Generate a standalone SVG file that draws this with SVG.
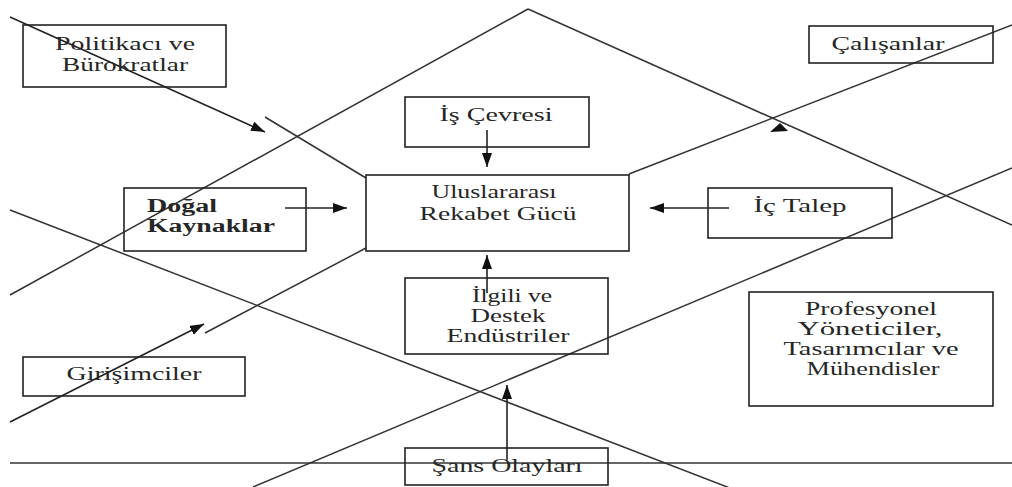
<svg xmlns="http://www.w3.org/2000/svg" width="1012" height="487" viewBox="0 0 1012 487">
<style>
.box{fill:none;stroke:#222;stroke-width:1.6}
.ln{stroke:#333;stroke-width:1.5;fill:none}
.ar{stroke:#222;stroke-width:1.6;fill:none;marker-end:url(#ah)}
text{font-family:"Liberation Serif","Times New Roman",serif;font-size:19px;fill:#262626;text-anchor:middle}
.b{font-weight:bold;text-anchor:start}
</style>
<defs>
<marker id="ah" markerUnits="userSpaceOnUse" markerWidth="16" markerHeight="12" refX="14" refY="5" orient="auto">
<path d="M0,0 L14,5 L0,10 z" fill="#111"/>
</marker>
</defs>
<rect width="1012" height="487" fill="#fff"/>
<g id="connectors">
<line class="ln" x1="528" y1="9" x2="10" y2="295"/>
<line class="ln" x1="528" y1="9" x2="1012" y2="225"/>
<line class="ln" x1="265" y1="117" x2="366" y2="178"/>
<line class="ln" x1="629" y1="174" x2="1012" y2="25"/>
<line class="ln" x1="205" y1="333" x2="366" y2="248"/>
<line class="ln" x1="10" y1="210" x2="735" y2="490"/>
<line class="ln" x1="253" y1="487" x2="1012" y2="168"/>
<line class="ln" x1="10" y1="463" x2="1012" y2="463"/>
<line class="ar" x1="10" y1="17" x2="265" y2="132"/>
<line class="ar" x1="10" y1="422" x2="204" y2="324"/>
<line class="ar" x1="487" y1="130" x2="487" y2="167"/>
<line class="ar" x1="285" y1="208" x2="347" y2="208"/>
<line class="ar" x1="729" y1="208" x2="650" y2="208"/>
<line class="ar" x1="487" y1="293" x2="487" y2="255"/>
<line class="ar" x1="507" y1="460" x2="507" y2="385"/>
<polygon points="770,132 788,131 780,123" fill="#111"/>
</g>
<g id="politikaci">
<rect class="box" x="23" y="25" width="203" height="62"/>
<text transform="scale(1.35 1)" x="92.6" y="50" textLength="103.7" lengthAdjust="spacingAndGlyphs">Politikacı ve</text>
<text transform="scale(1.35 1)" x="92.6" y="71" textLength="93.3" lengthAdjust="spacingAndGlyphs">Bürokratlar</text>
</g>
<g id="is-cevresi">
<rect class="box" x="405" y="97" width="184" height="50"/>
<text transform="scale(1.35 1)" x="367.4" y="121" textLength="83.7" lengthAdjust="spacingAndGlyphs">İş Çevresi</text>
</g>
<g id="calisanlar">
<rect class="box" x="809" y="26" width="184" height="37"/>
<text transform="scale(1.35 1)" x="657.8" y="50" textLength="83.7" lengthAdjust="spacingAndGlyphs">Çalışanlar</text>
</g>
<g id="dogal-kaynaklar">
<rect class="box" x="124" y="188" width="182" height="63"/>
<text class="b" transform="scale(1.35 1)" x="108.9" y="212" textLength="51.9" lengthAdjust="spacingAndGlyphs">Doğal</text>
<text class="b" transform="scale(1.35 1)" x="108.9" y="232" textLength="94.8" lengthAdjust="spacingAndGlyphs">Kaynaklar</text>
</g>
<g id="rekabet">
<rect class="box" x="366" y="175" width="263" height="76"/>
<text transform="scale(1.35 1)" x="365.9" y="198" textLength="92.6" lengthAdjust="spacingAndGlyphs">Uluslararası</text>
<text transform="scale(1.35 1)" x="368.9" y="220" textLength="116.3" lengthAdjust="spacingAndGlyphs">Rekabet Gücü</text>
</g>
<g id="ic-talep">
<rect class="box" x="708" y="188" width="184" height="50"/>
<text transform="scale(1.35 1)" x="592.6" y="212" textLength="68.9" lengthAdjust="spacingAndGlyphs">İç Talep</text>
</g>
<g id="ilgili-destek">
<rect class="box" x="405" y="278" width="203" height="76"/>
<text transform="scale(1.35 1)" x="379.3" y="302" textLength="59.3" lengthAdjust="spacingAndGlyphs">İlgili ve</text>
<text transform="scale(1.35 1)" x="376.3" y="322" textLength="55.6" lengthAdjust="spacingAndGlyphs">Destek</text>
<text transform="scale(1.35 1)" x="376.3" y="342" textLength="91.1" lengthAdjust="spacingAndGlyphs">Endüstriler</text>
</g>
<g id="profesyonel">
<rect class="box" x="749" y="292" width="244" height="114"/>
<text transform="scale(1.35 1)" x="645.2" y="315" textLength="97.8" lengthAdjust="spacingAndGlyphs">Profesyonel</text>
<text transform="scale(1.35 1)" x="644.4" y="335" textLength="107.4" lengthAdjust="spacingAndGlyphs">Yöneticiler,</text>
<text transform="scale(1.35 1)" x="645.2" y="355" textLength="129.6" lengthAdjust="spacingAndGlyphs">Tasarımcılar ve</text>
<text transform="scale(1.35 1)" x="646.7" y="375" textLength="98.5" lengthAdjust="spacingAndGlyphs">Mühendisler</text>
</g>
<g id="girisimciler">
<rect class="box" x="23" y="357" width="222" height="39"/>
<text transform="scale(1.35 1)" x="99.3" y="380" textLength="100" lengthAdjust="spacingAndGlyphs">Girişimciler</text>
</g>
<g id="sans-olaylari">
<rect class="box" x="405" y="448" width="203" height="37"/>
<text transform="scale(1.35 1)" x="375.6" y="472" textLength="111.9" lengthAdjust="spacingAndGlyphs">Şans Olayları</text>
</g>
</svg>
